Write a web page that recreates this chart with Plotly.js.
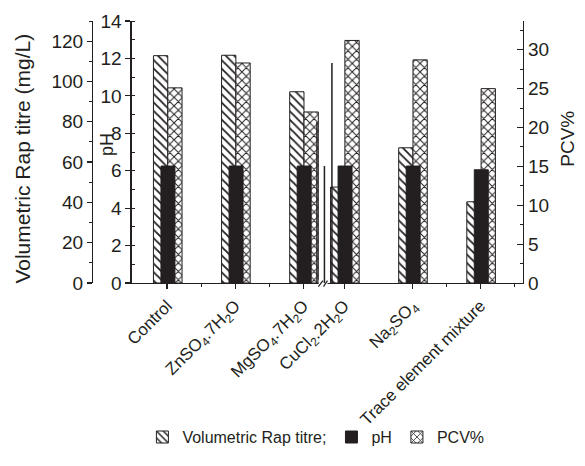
<!DOCTYPE html>
<html>
<head>
<meta charset="utf-8">
<script src="https://cdn.plot.ly/plotly-3.0.1.min.js"></script>
<style>html,body{margin:0;padding:0;background:#fff;}#chart{width:585px;height:466px;}</style>
</head>
<body>
<div id="chart"></div>
<script>
// ---- data ----
const categories = ["Control", "ZnSO<sub>4</sub>.7H<sub>2</sub>O", "MgSO<sub>4</sub>.7H<sub>2</sub>O",
                    "CuCl<sub>2</sub>.2H<sub>2</sub>O", "Na<sub>2</sub>SO<sub>4</sub>", "Trace element mixture"];
const rapTitre = [112.8, 113.0, 94.9, 47.6, 67.1, 40.3];   // mg/L
const phValues = [6.25, 6.25, 6.25, 6.25, 6.25, 6.05];     // pH
const pcvValues = [25.1, 28.3, 22.0, 31.2, 28.7, 25.0];    // PCV %

// ---- layout helpers (positions on the broken category axis) ----
const xPos = [0, 1, 2, 2.6, 3.6, 4.6];
const minorTicks = [0.5, 1.5, 4.1, 5.1];
const breakLines = [{x: 2.20, top: 8.6}, {x: 2.31, top: 6.25}, {x: 2.42, top: 11.75}];

const ink = '#231f20';
const font = 'Liberation Sans, Arial, sans-serif';

const traces = [
  {
    type: 'bar', name: 'Volumetric Rap titre;', x: xPos, y: rapTitre, yaxis: 'y',
    offset: -0.2, width: 0.21, legendrank: 1,
    marker: {color: '#ffffff', line: {color: ink, width: 1},
             pattern: {shape: '\\', size: 6, solidity: 0.3, fgcolor: ink, bgcolor: '#ffffff'}}
  },
  {
    type: 'bar', name: 'PCV%', x: xPos, y: pcvValues, yaxis: 'y2',
    offset: 0.01, width: 0.21, legendrank: 3,
    marker: {color: '#ffffff', line: {color: ink, width: 1},
             pattern: {shape: 'x', size: 6, solidity: 0.3, fgcolor: ink, bgcolor: '#ffffff'}}
  },
  {
    type: 'bar', name: 'pH', x: xPos, y: phValues, yaxis: 'y3',
    offset: -0.09, width: 0.205, legendrank: 2,
    marker: {color: ink, line: {color: ink, width: 1}}
  }
];

const shapes = [
  {type: 'rect', xref: 'x', yref: 'paper', x0: 2.225, x1: 2.355, y0: -0.012, y1: 0.012,
   fillcolor: '#ffffff', line: {width: 0}, layer: 'above'}
];
breakLines.forEach(b => shapes.push({type: 'line', xref: 'x', yref: 'y3', x0: b.x, x1: b.x, y0: 0, y1: b.top,
   line: {color: ink, width: 1.5}, layer: 'above'}));
shapes.push({type: 'line', xref: 'x', yref: 'paper', x0: 2.222, x1: 2.287, y0: -0.014, y1: 0.009, line: {color: ink, width: 1.2}});
shapes.push({type: 'line', xref: 'x', yref: 'paper', x0: 2.296, x1: 2.355, y0: -0.014, y1: 0.009, line: {color: ink, width: 1.2}});

const layout = {
  width: 585, height: 466,
  margin: {l: 92, r: 62, t: 21, b: 183, pad: 0},
  paper_bgcolor: '#ffffff', plot_bgcolor: 'rgba(0,0,0,0)',
  font: {family: font, color: ink, size: 16},
  barmode: 'overlay',
  showlegend: true,
  legend: {orientation: 'h', xref: 'container', yref: 'container', x: 0.54, y: 0.062,
           xanchor: 'center', yanchor: 'middle', font: {size: 16, color: ink}, bgcolor: 'rgba(0,0,0,0)'},
  xaxis: {
    domain: [0.092, 1], range: [-0.52, 5.225],
    tickmode: 'array', tickvals: xPos, ticktext: categories, tickangle: -45,
    ticks: 'outside', ticklen: 5, tickwidth: 1.2, tickcolor: ink,
    minor: {tickmode: 'array', tickvals: minorTicks, ticks: 'outside', ticklen: 3, tickwidth: 1, tickcolor: ink},
    showline: true, linecolor: ink, linewidth: 1.2, showgrid: false, zeroline: false,
    tickfont: {size: 17, color: ink}
  },
  yaxis: {
    anchor: 'free', position: 0, range: [0, 130],
    tickmode: 'linear', tick0: 0, dtick: 20,
    ticks: 'outside', ticklen: 5, tickwidth: 1.2, tickcolor: ink,
    minor: {dtick: 10, ticks: 'outside', ticklen: 3, tickwidth: 1, tickcolor: ink},
    showline: true, linecolor: ink, linewidth: 1.2, showgrid: false, zeroline: false,
    tickfont: {size: 19, color: ink}
  },
  yaxis2: {
    overlaying: 'y', side: 'right', anchor: 'x', range: [0, 33.7],
    tickmode: 'linear', tick0: 0, dtick: 5,
    ticks: 'inside', ticklen: 6, tickwidth: 1.2, tickcolor: ink,
    minor: {dtick: 2.5, ticks: 'inside', ticklen: 3, tickwidth: 1, tickcolor: ink},
    showline: true, linecolor: ink, linewidth: 1.2, showgrid: false, zeroline: false,
    tickfont: {size: 19, color: ink}
  },
  yaxis3: {
    overlaying: 'y', side: 'left', anchor: 'x', range: [0, 14],
    tickmode: 'linear', tick0: 0, dtick: 2,
    ticks: 'outside', ticklen: 5, tickwidth: 1.2, tickcolor: ink,
    minor: {dtick: 1, ticks: 'inside', ticklen: 3, tickwidth: 1, tickcolor: ink},
    showline: true, linecolor: ink, linewidth: 1.2, showgrid: false, zeroline: false,
    tickfont: {size: 19, color: ink}
  },
  shapes: shapes,
  annotations: [
    {text: 'Volumetric Rap titre (mg/L)', xref: 'paper', yref: 'paper', x: -0.160, y: 0.475,
     textangle: -90, showarrow: false, font: {size: 21, color: ink}, xanchor: 'center', yanchor: 'middle'},
    {text: 'pH', xref: 'paper', yref: 'paper', x: 0.035, y: 0.527,
     textangle: -90, showarrow: false, font: {size: 18, color: ink}, xanchor: 'center', yanchor: 'middle'},
    {text: 'PCV%', xref: 'paper', yref: 'paper', x: 1.104, y: 0.55,
     textangle: -90, showarrow: false, font: {size: 19, color: ink}, xanchor: 'center', yanchor: 'middle'}
  ]
};

Plotly.newPlot('chart', traces, layout, {staticPlot: true, displayModeBar: false});
</script>
</body>
</html>
